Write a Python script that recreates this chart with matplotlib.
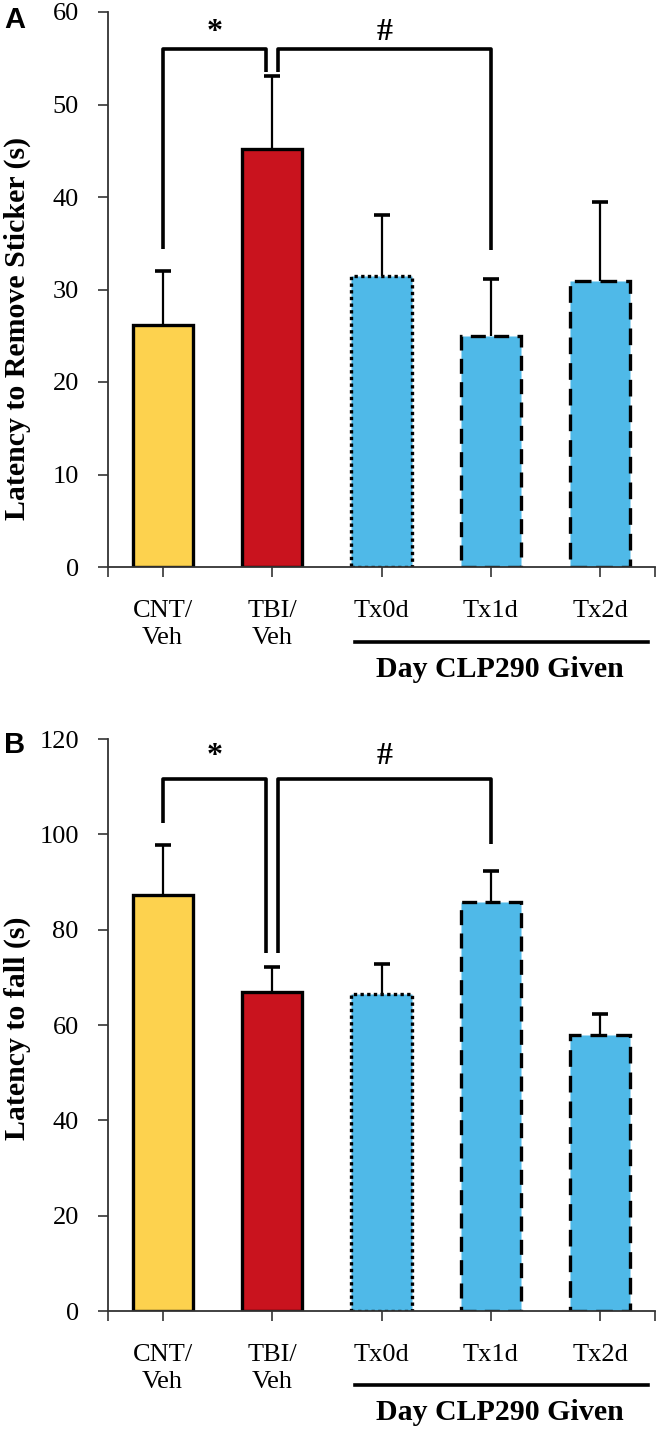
import matplotlib
matplotlib.use('Agg')
import matplotlib.pyplot as plt
from matplotlib.transforms import blended_transform_factory

# categories / tick labels
grupos = ['CNT/\nVeh', 'TBI/\nVeh', 'Tx0d', 'Tx1d', 'Tx2d']
cores = ['#FDD24E', '#C9131E', '#4FB9E8', '#4FB9E8', '#4FB9E8']
estilos = ['solid', 'solid', (0, (1, 1)), (0, (4.5, 2.5)), (0, (5, 2.7))]

# painel A - latencia para remover adesivo
mediaA = [26.2, 45.2, 31.5, 25.0, 30.9]
erroA = [5.8, 7.9, 6.6, 6.1, 8.6]

# painel B - latencia para cair
mediaB = [87.2, 66.9, 66.5, 85.9, 58.0]
erroB = [10.6, 5.2, 6.3, 6.5, 4.4]

# colchetes de significancia: (x esquerdo, x direito, topo, base esq, base dir, simbolo)
colchetesA = [(0, 0.945, 56.0, 34.4, 53.5, '*'), (1.055, 3, 56.0, 53.5, 34.3, '#')]
colchetesB = [(0, 0.945, 111.6, 102.4, 75.2, '*'), (1.055, 3, 111.6, 75.2, 98.0, '#')]

plt.rcParams['font.family'] = ['Liberation Serif', 'DejaVu Serif']

fig = plt.figure(figsize=(6.6, 14.32), dpi=100)
W, H = 660.0, 1432.0


def desenhar(ax, medias, erros, colchetes, ymax, passo, ysimb, ylinha, ydia):
    x = list(range(len(medias)))
    for i in x:
        ax.bar(i, medias[i], width=0.55, color=cores[i], edgecolor='black',
               linewidth=2.4, linestyle=estilos[i], zorder=2)
    eb = ax.errorbar(x, medias, yerr=[[0] * len(erros), erros], fmt='none',
                     ecolor='black', elinewidth=1.6, capsize=5.5, capthick=2.6, zorder=3)
    # so a tampa de cima
    eb[1][0].set_visible(False)

    for (x0, x1, topo, b0, b1, simb) in colchetes:
        ax.plot([x0, x0, x1, x1], [b0, topo, topo, b1], color='black',
                linewidth=2.6, solid_capstyle='butt', zorder=4, clip_on=False)
        ax.text((x0 + x1) / 2, ysimb, simb, ha='center', va='baseline',
                fontsize=23, fontweight='bold', clip_on=False)

    ax.set_xlim(-0.5, 4.5)
    ax.set_ylim(0, ymax)
    ax.set_yticks(range(0, ymax + 1, passo))
    ax.set_xticks(x)
    ax.set_xticklabels(grupos, fontsize=19, linespacing=1.3, va='top')
    ax.set_xticks([-0.5, 4.5], minor=True)
    ax.tick_params(axis='y', labelsize=19, direction='out', length=7, width=1.2,
                   color='#333333', pad=14)
    ax.tick_params(axis='x', which='both', direction='out', length=7, width=1.2,
                   color='#333333', pad=17)
    for lado in ['top', 'right']:
        ax.spines[lado].set_visible(False)
    for lado in ['left', 'bottom']:
        ax.spines[lado].set_color('#333333')
        ax.spines[lado].set_linewidth(1.3)

    tr = blended_transform_factory(ax.transData, fig.transFigure)
    ax.plot([1.76, 4.44], [1 - ylinha / H, 1 - ylinha / H], color='black',
            linewidth=2.6, transform=tr, clip_on=False)
    ax.text(3.08, 1 - ydia / H, 'Day CLP290 Given', transform=tr, ha='center',
            va='center', fontsize=21.5, fontweight='bold')


axA = fig.add_axes([108 / W, 1 - 567 / H, 547 / W, 555 / H])
desenhar(axA, mediaA, erroA, colchetesA, 60, 10, 57.0, 642, 670)

axB = fig.add_axes([108 / W, 1 - 1311 / H, 547 / W, 572 / H])
desenhar(axB, mediaB, erroB, colchetesB, 120, 20, 114.8, 1385, 1413)

fig.text(17 / W, 1 - 328 / H, 'Latency to Remove Sticker (s)', rotation=90,
         ha='center', va='center', fontsize=21.5, fontweight='bold')
fig.text(17 / W, 1 - 1028 / H, 'Latency to fall (s)', rotation=90,
         ha='center', va='center', fontsize=21.5, fontweight='bold')

fig.text(15 / W, 1 - 20 / H, 'A', ha='center', va='center', fontsize=21,
         fontweight='bold', family='Liberation Sans')
fig.text(15 / W, 1 - 745 / H, 'B', ha='center', va='center', fontsize=21,
         fontweight='bold', family='Liberation Sans')

fig.savefig('out.png', dpi=100)
